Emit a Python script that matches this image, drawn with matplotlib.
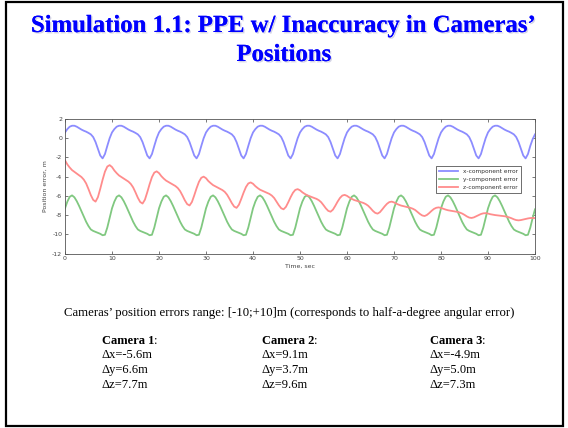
import numpy as np
import matplotlib
matplotlib.use("Agg")
import matplotlib.pyplot as plt
from matplotlib.patches import Rectangle
from matplotlib import patheffects

plt.rcParams["axes.unicode_minus"] = False

# time grid, 0.5 s steps
t = np.arange(0, 100.5, 0.5)

x_err = [
    0.6, 0.95, 1.2, 1.3, 1.3, 1.2, 1.05, 0.9, 0.78, 0.68, 0.55, 0.4, 0.12, -0.4, -1.1, -1.8, -2.1, -1.65, -0.8, 0.0,
    0.6, 0.95, 1.2, 1.3, 1.3, 1.2, 1.05, 0.9, 0.78, 0.68, 0.55, 0.4, 0.12, -0.4, -1.1, -1.8, -2.1, -1.65, -0.8, 0.0,
    0.6, 0.95, 1.2, 1.3, 1.3, 1.2, 1.05, 0.9, 0.78, 0.68, 0.55, 0.4, 0.12, -0.4, -1.1, -1.8, -2.1, -1.65, -0.8, 0.0,
    0.6, 0.95, 1.2, 1.3, 1.3, 1.2, 1.05, 0.9, 0.78, 0.68, 0.55, 0.4, 0.12, -0.4, -1.1, -1.8, -2.1, -1.65, -0.8, 0.0,
    0.6, 0.95, 1.2, 1.3, 1.3, 1.2, 1.05, 0.9, 0.78, 0.68, 0.55, 0.4, 0.12, -0.4, -1.1, -1.8, -2.1, -1.65, -0.8, 0.0,
    0.6, 0.95, 1.2, 1.3, 1.3, 1.2, 1.05, 0.9, 0.78, 0.68, 0.55, 0.4, 0.12, -0.4, -1.1, -1.8, -2.1, -1.65, -0.8, 0.0,
    0.6, 0.95, 1.2, 1.3, 1.3, 1.2, 1.05, 0.9, 0.78, 0.68, 0.55, 0.4, 0.12, -0.4, -1.1, -1.8, -2.1, -1.65, -0.8, 0.0,
    0.6, 0.95, 1.2, 1.3, 1.3, 1.2, 1.05, 0.9, 0.78, 0.68, 0.55, 0.4, 0.12, -0.4, -1.1, -1.8, -2.1, -1.65, -0.8, 0.0,
    0.6, 0.95, 1.2, 1.3, 1.3, 1.2, 1.05, 0.9, 0.78, 0.68, 0.55, 0.4, 0.12, -0.4, -1.1, -1.8, -2.1, -1.65, -0.8, 0.0,
    0.6, 0.95, 1.2, 1.3, 1.3, 1.2, 1.05, 0.9, 0.78, 0.68, 0.55, 0.4, 0.12, -0.4, -1.1, -1.8, -2.1, -1.65, -0.8, -0.1,
    0.4,
]

y_err = [
    -7.3, -6.6, -6.1, -5.95, -6.15, -6.55, -7.05, -7.6, -8.15, -8.7, -9.15, -9.5, -9.65, -9.75, -9.85, -9.95, -10.1, -10.05, -9.3, -8.3,
    -7.3, -6.6, -6.1, -5.95, -6.15, -6.55, -7.05, -7.6, -8.15, -8.7, -9.15, -9.5, -9.65, -9.75, -9.85, -9.95, -10.1, -10.05, -9.3, -8.3,
    -7.3, -6.6, -6.1, -5.95, -6.15, -6.55, -7.05, -7.6, -8.15, -8.7, -9.15, -9.5, -9.65, -9.75, -9.85, -9.95, -10.1, -10.05, -9.3, -8.3,
    -7.3, -6.6, -6.1, -5.95, -6.15, -6.55, -7.05, -7.6, -8.15, -8.7, -9.15, -9.5, -9.65, -9.75, -9.85, -9.95, -10.1, -10.05, -9.3, -8.3,
    -7.3, -6.6, -6.1, -5.95, -6.15, -6.55, -7.05, -7.6, -8.15, -8.7, -9.15, -9.5, -9.65, -9.75, -9.85, -9.95, -10.1, -10.05, -9.3, -8.3,
    -7.3, -6.6, -6.1, -5.95, -6.15, -6.55, -7.05, -7.6, -8.15, -8.7, -9.15, -9.5, -9.65, -9.75, -9.85, -9.95, -10.1, -10.05, -9.3, -8.3,
    -7.3, -6.6, -6.1, -5.95, -6.15, -6.55, -7.05, -7.6, -8.15, -8.7, -9.15, -9.5, -9.65, -9.75, -9.85, -9.95, -10.1, -10.05, -9.3, -8.3,
    -7.3, -6.6, -6.1, -5.95, -6.15, -6.55, -7.05, -7.6, -8.15, -8.7, -9.15, -9.5, -9.65, -9.75, -9.85, -9.95, -10.1, -10.05, -9.3, -8.3,
    -7.3, -6.6, -6.1, -5.95, -6.15, -6.55, -7.05, -7.6, -8.15, -8.7, -9.15, -9.5, -9.65, -9.75, -9.85, -9.95, -10.1, -10.05, -9.3, -8.3,
    -7.3, -6.6, -6.1, -5.95, -6.15, -6.55, -7.05, -7.6, -8.15, -8.7, -9.15, -9.5, -9.65, -9.75, -9.85, -9.95, -10.1, -10.05, -9.3, -8.3,
    -7.4,
]

z_err = [
    -2.3, -2.73, -3.05, -3.32, -3.5, -3.68, -3.86, -4.04, -4.31, -4.71, -5.3, -5.93, -6.42, -6.6, -6.14, -5.27, -4.32, -3.48, -2.95, -2.8,
    -3.0, -3.36, -3.64, -3.88, -4.04, -4.2, -4.36, -4.52, -4.76, -5.12, -5.64, -6.2, -6.64, -6.8, -6.4, -5.63, -4.79, -4.05, -3.58, -3.45,
    -3.63, -3.95, -4.2, -4.41, -4.55, -4.69, -4.83, -4.98, -5.19, -5.51, -5.97, -6.47, -6.86, -7.0, -6.64, -5.95, -5.2, -4.54, -4.12, -4.0,
    -4.16, -4.46, -4.68, -4.88, -5.01, -5.14, -5.27, -5.4, -5.59, -5.89, -6.31, -6.76, -7.12, -7.25, -6.93, -6.32, -5.66, -5.08, -4.71, -4.6,
    -4.74, -4.99, -5.19, -5.36, -5.47, -5.58, -5.69, -5.8, -5.97, -6.22, -6.59, -6.98, -7.29, -7.4, -7.15, -6.67, -6.14, -5.68, -5.38, -5.3,
    -5.42, -5.63, -5.79, -5.93, -6.03, -6.12, -6.22, -6.31, -6.45, -6.66, -6.97, -7.3, -7.56, -7.65, -7.44, -7.04, -6.6, -6.22, -5.97, -5.9,
    -6.0, -6.17, -6.31, -6.43, -6.5, -6.58, -6.66, -6.74, -6.86, -7.03, -7.28, -7.56, -7.77, -7.85, -7.7, -7.41, -7.1, -6.83, -6.65, -6.6,
    -6.68, -6.81, -6.92, -7.01, -7.07, -7.13, -7.19, -7.25, -7.34, -7.47, -7.67, -7.88, -8.04, -8.1, -7.99, -7.79, -7.56, -7.36, -7.24, -7.2,
    -7.26, -7.35, -7.43, -7.5, -7.54, -7.59, -7.63, -7.67, -7.74, -7.84, -7.98, -8.14, -8.26, -8.3, -8.24, -8.12, -8.0, -7.89, -7.82, -7.8,
    -7.84, -7.91, -7.96, -8.0, -8.03, -8.06, -8.09, -8.12, -8.17, -8.24, -8.33, -8.44, -8.52, -8.55, -8.52, -8.46, -8.4, -8.35, -8.31, -8.3,
    -8.32,
]

series_labels = ["x-component error", "y-component error", "z-component error"]
xticks = [0, 10, 20, 30, 40, 50, 60, 70, 80, 90, 100]
yticks = [2, 0, -2, -4, -6, -8, -10, -12]

cameras = ["Camera 1", "Camera 2", "Camera 3"]
dx = [-5.6, 9.1, -4.9]
dy = [6.6, 3.7, 5.0]
dz = [7.7, 9.6, 7.3]

W, H = 568, 428
fig = plt.figure(figsize=(W / 100, H / 100), dpi=100)
fig.patch.set_facecolor("white")

# slide frame
fig.patches.append(Rectangle((6 / W, 1 - 426 / H), (563 - 6) / W, (426 - 1.5) / H,
                             transform=fig.transFigure, fill=False,
                             edgecolor="black", linewidth=1.6))

serif = "Liberation Serif"
shadow = [patheffects.withSimplePatchShadow(offset=(1, -1), shadow_rgbFace="#aaaacc", alpha=0.5),
          patheffects.Normal()]
fig.text(284 / W, 1 - 32 / H, "Simulation 1.1: PPE w/ Inaccuracy in Cameras\u2019",
         ha="center", va="baseline", family=serif, weight="bold", fontsize=17.8,
         color="#0000ff", path_effects=shadow)
fig.text(284 / W, 1 - 61 / H, "Positions", ha="center", va="baseline",
         family=serif, weight="bold", fontsize=17.8, color="#0000ff", path_effects=shadow)

# plot panel
ax = fig.add_axes([65 / W, 1 - 253.5 / H, 470 / W, 134.5 / H])
ax.plot(t, x_err, color="#8c8cff", lw=1.3, label=series_labels[0])
ax.plot(t, y_err, color="#80c880", lw=1.3, label=series_labels[1])
ax.plot(t, z_err, color="#ff8c8c", lw=1.3, label=series_labels[2])
ax.set_xlim(0, 100)
ax.set_ylim(-12, 2)
ax.set_xticks(xticks)
ax.set_yticks(yticks)
ax.tick_params(direction="in", length=2.5, width=0.5, labelsize=4.5, colors="#444444",
               top=True, right=True, pad=2)
for s in ax.spines.values():
    s.set_linewidth(0.6)
    s.set_color("#555555")
ax.set_xlabel("Time, sec", fontsize=4.5, color="#444444", labelpad=2)
ax.set_ylabel("Position error, m", fontsize=4.5, color="#444444", labelpad=3)
leg = ax.legend(loc="upper left", bbox_to_anchor=(0.783, 0.675), fontsize=4.2,
                frameon=True, fancybox=False, edgecolor="black", handlelength=3.2,
                borderpad=0.5, labelspacing=0.5, handletextpad=1.0)
leg.get_frame().set_linewidth(0.5)
for txt in leg.get_texts():
    txt.set_color("#333333")

fig.text(289 / W, 1 - 313 / H,
         "Cameras\u2019 position errors range: [-10;+10]m (corresponds to half-a-degree angular error)",
         ha="center", va="center", family=serif, fontsize=9.2, color="black")

col_x = [102, 262, 430]
row_y = [341, 355.5, 370, 385]
for i, name in enumerate(cameras):
    xf = col_x[i] / W
    head = fig.text(xf, 1 - row_y[0] / H, name, ha="left", va="center",
                    family=serif, weight="bold", fontsize=9.0)
    fig.canvas.draw()
    bb = head.get_window_extent()
    fig.text(bb.x1 / W, 1 - row_y[0] / H, ":", ha="left", va="center", family=serif, fontsize=9.0)
    fig.text(xf, 1 - row_y[1] / H, "\u0394x=%.1fm" % dx[i], ha="left", va="center", family=serif, fontsize=9.0)
    fig.text(xf, 1 - row_y[2] / H, "\u0394y=%.1fm" % dy[i], ha="left", va="center", family=serif, fontsize=9.0)
    fig.text(xf, 1 - row_y[3] / H, "\u0394z=%.1fm" % dz[i], ha="left", va="center", family=serif, fontsize=9.0)

fig.savefig("out.png", dpi=100)
